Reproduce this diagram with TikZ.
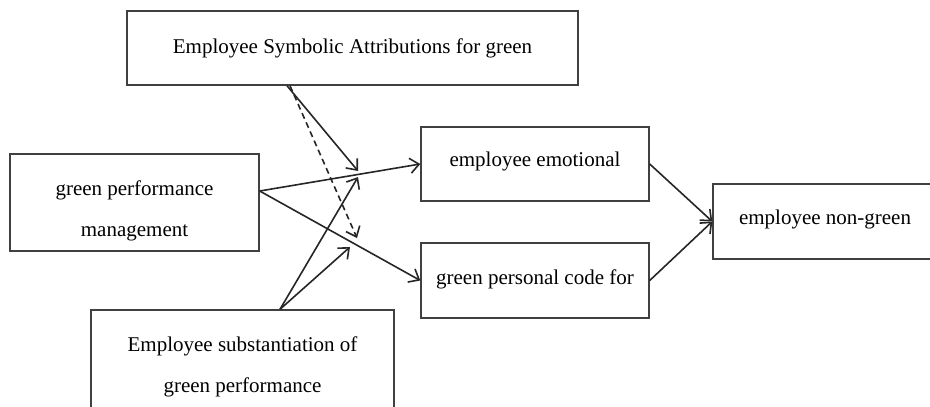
\documentclass[tikz,border=0pt]{standalone}
\usepackage{fontspec}
\setmainfont{Liberation Serif}
\usetikzlibrary{arrows.meta}
\begin{document}
\begin{tikzpicture}[x=1pt,y=-1pt,
  box/.style={draw=black!75,line width=1.4pt,inner sep=0pt,align=center,font=\fontsize{21}{42}\selectfont},
  txt/.style={align=center,inner sep=0pt,font=\fontsize{21}{41}\selectfont},
  conn/.style={draw=black!85,line width=1.6pt,-{Straight Barb[length=9pt,width=15pt,line width=1.6pt]}}]
\useasboundingbox (0,0) rectangle (930,407);
\fill[white] (0,0) rectangle (930,407);
\node[box,minimum width=451pt,minimum height=74pt] (top) at (352.5,48) {Employee Symbolic Attributions for green};
\node[box,minimum width=249pt,minimum height=97pt] (left) at (134.5,202.5) {};
\node[txt] (lefttxt) at (134.5,211) {green performance\\management};
\node[box,minimum width=303pt,minimum height=112pt] (bot) at (242.5,366) {};
\node[txt] (bottxt) at (242.5,367) {Employee substantiation of\\green performance};
\node[box,minimum width=228pt,minimum height=74pt] (emo) at (535,164) {};
\node[txt] (emotxt) at (535,161) {employee emotional};
\node[box,minimum width=228pt,minimum height=75pt] (per) at (535,280.5) {};
\node[txt] (pertxt) at (535,279) {green personal code for};
\node[box,minimum width=230pt,minimum height=75pt] (ng) at (828,221.5) {};
\node[txt] (ngtxt) at (825,219) {employee non-green};
\coordinate (m1) at (358,171);
\coordinate (m2) at (357,238);
\coordinate (m3) at (358,177);
\coordinate (m4) at (350,247);
\draw[conn] ([xshift=-65.5pt]top.south) -- (m1);
\draw[conn,dash pattern=on 6pt off 4pt] ([xshift=-62.5pt]top.south) -- (m2);
\draw[conn] ([yshift=11.5pt]left.east) -- (emo.west);
\draw[conn] ([yshift=11.5pt]left.east) -- (per.west);
\draw[conn] ([xshift=37.5pt]bot.north) -- (m3);
\draw[conn] ([xshift=37.5pt]bot.north) -- (m4);
\draw[conn] (emo.east) -- (ng.west);
\draw[conn] (per.east) -- (ng.west);
\end{tikzpicture}
\end{document}
